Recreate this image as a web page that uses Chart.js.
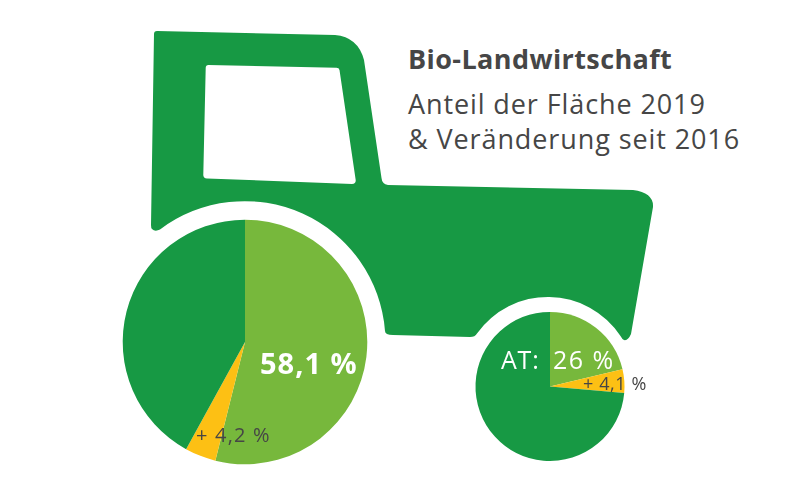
<!DOCTYPE html>
<html lang="de"><head><meta charset="utf-8">
<script src="https://cdn.jsdelivr.net/npm/chart.js@4"></script>
<style>
html,body{margin:0;padding:0;background:#fff;width:800px;height:496px;overflow:hidden}
canvas,svg{position:absolute;left:0;top:0}
.t{position:absolute;left:408px;font-family:"Open Sans",sans-serif;font-size:27px;color:#464646;white-space:nowrap;line-height:1;letter-spacing:.9px}
</style></head><body>
<svg width="800" height="496" viewBox="0 0 800 496">
<path fill="#179944" fill-rule="evenodd" d="M157 31 L335 35 Q358 37 364 60 L381.5 178 Q382 184 388 185 L633 190 Q654 193 653 207 L631 334 Q628 341 624 340 Q622 339 620.5 336 A87 87 0 0 0 477 333.5 Q475 337 470 337 L393 335 Q385 335 385 331 A140.7 140.7 0 0 0 160 229.5 Q155 232 152 229 Q151 228 151 225 L154 34 Q154 31 157 31 Z
M208.5 65 L336.5 67.7 Q339 67.7 339.5 70 L355.7 180 Q356 184 352 184 L207 178.5 Q203 178 203.3 174.5 L205.7 68 Q205.7 65 208.5 65 Z"/>
</svg>
<div class="t" style="top:45px;font-weight:700;letter-spacing:.4px">Bio-Landwirtschaft</div>
<div class="t" style="top:90px">Anteil der Fläche 2019</div>
<div class="t" style="top:125px">&amp; Veränderung seit 2016</div>
<canvas id="big" width="800" height="496"></canvas>
<canvas id="small" width="800" height="496"></canvas>
<script>
const categories = ["Bio-Fläche 2016", "Zuwachs seit 2016", "Übrige Fläche"];
const bigValues = [53.9, 4.1, 42.0];
const smallValues = [21.3, 5.1, 73.6];
const sliceColors = ["#77B83C", "#FDC014", "#179944"];
const bigLabels = ["58,1 %", "+ 4,2 %"];
const smallLabels = ["AT:", "26 %", "+ 4,1 %"];

const labelPlugin = {
  id: "labels",
  afterDraw(chart, args, opts) {
    const a = chart.getDatasetMeta(0).data[0], c = chart.ctx;
    c.save();
    c.textBaseline = "alphabetic";
    opts.items.forEach(it => {
      c.font = (it.bold ? "700 " : "") + it.size + 'px "Open Sans", sans-serif';
      c.letterSpacing = it.sp + "px";
      c.fillStyle = it.color;
      c.fillText(it.text, a.x + it.dx, a.y + it.dy);
    });
    c.restore();
  }
};
function pie(id, values, pad, items) {
  return new Chart(document.getElementById(id), {
    type: "pie",
    data: { labels: categories, datasets: [{ data: values, backgroundColor: sliceColors, borderWidth: 0 }] },
    options: {
      responsive: false, animation: false, devicePixelRatio: 1, events: [],
      layout: { padding: pad },
      plugins: { legend: { display: false }, tooltip: { enabled: false }, labels: { items } }
    },
    plugins: [labelPlugin]
  });
}
pie("big", bigValues, { left: 122.7, right: 432.7, top: 219.7, bottom: 31.7 }, [
  { text: bigLabels[0], dx: 15, dy: 32, size: 29, sp: 1, bold: true, color: "#fff" },
  { text: bigLabels[1], dx: -49, dy: 100, size: 20, sp: 1.2, color: "#464646" }
]);
pie("small", smallValues, { left: 475.5, right: 175.5, top: 311.7, bottom: 34.7 }, [
  { text: smallLabels[0], dx: -49, dy: -18, size: 25, sp: 0.8, color: "#fff" },
  { text: smallLabels[1], dx: 3, dy: -18, size: 25, sp: 1.5, color: "#fff" },
  { text: smallLabels[2], dx: 33, dy: 3, size: 18, sp: 0.6, color: "#464646" }
]);
</script>
</body></html>
